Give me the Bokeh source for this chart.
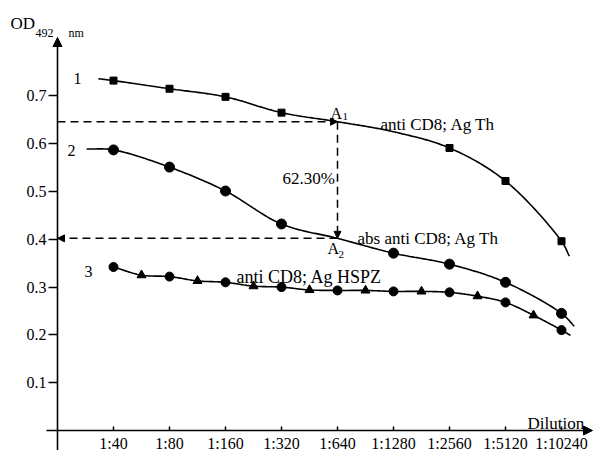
import numpy as np
from bokeh.plotting import figure
from bokeh.models import FixedTicker, Label, Arrow, NormalHead
from bokeh.embed import file_html
from bokeh.resources import INLINE

# ---------------- data ----------------
dilutions = ["1:40", "1:80", "1:160", "1:320", "1:640", "1:1280", "1:2560", "1:5120", "1:10240"]
dil_pos = [1, 2, 3, 4, 5, 6, 7, 8, 9]
y_ticks = [0.1, 0.2, 0.3, 0.4, 0.5, 0.6, 0.7]
y_tick_labels = ["0.1", "0.2", "0.3", "0.4", "0.5", "0.6", "0.7"]

# curve 1: anti CD8; Ag Th (squares)
c1_vals = [0.732, 0.715, 0.698, 0.665, 0.646, 0.625, 0.591, 0.522, 0.396]
c1_marked = [1, 1, 1, 1, 0, 0, 1, 1, 1]
c1_start = (0.73, 0.736)
c1_end = (9.14, 0.365)

# curve 2: abs anti CD8; Ag Th (circles)
c2_vals = [0.587, 0.551, 0.501, 0.432, 0.402, 0.371, 0.348, 0.310, 0.245]
c2_marked = [1, 1, 1, 1, 0, 1, 1, 1, 1]
c2_start = (0.52, 0.589)
c2_end = (9.23, 0.218)

# curve 3: anti CD8; Ag HSPZ (circles at dilutions, triangles between)
c3_circ = [0.342, 0.322, 0.310, 0.300, 0.293, 0.291, 0.289, 0.268, 0.210]
c3_tri_pos = [1.5, 2.5, 3.5, 4.5, 5.5, 6.5, 7.5, 8.5]
c3_tri = [0.325, 0.313, 0.302, 0.294, 0.293, 0.291, 0.281, 0.241]
c3_end = (9.16, 0.199)

A1 = c1_vals[4]
A2 = c2_vals[4]
pct_label = "62.30%"


def smooth(xs, ys, n=24, sx=56.0, sy=478.0):
    """centripetal Catmull-Rom curve through the given points (drawing only)"""
    P = np.column_stack([np.asarray(xs, float) * sx, np.asarray(ys, float) * sy])
    P = np.vstack([2 * P[0] - P[1], P, 2 * P[-1] - P[-2]])
    out = []
    for i in range(1, len(P) - 2):
        p0, p1, p2, p3 = P[i - 1], P[i], P[i + 1], P[i + 2]
        t0 = 0.0
        t1 = t0 + np.linalg.norm(p1 - p0) ** 0.5
        t2 = t1 + np.linalg.norm(p2 - p1) ** 0.5
        t3 = t2 + np.linalg.norm(p3 - p2) ** 0.5
        t = np.linspace(t1, t2, n, endpoint=False)[:, None]
        a1 = (t1 - t) / (t1 - t0) * p0 + (t - t0) / (t1 - t0) * p1
        a2 = (t2 - t) / (t2 - t1) * p1 + (t - t1) / (t2 - t1) * p2
        a3 = (t3 - t) / (t3 - t2) * p2 + (t - t2) / (t3 - t2) * p3
        b1 = (t2 - t) / (t2 - t0) * a1 + (t - t0) / (t2 - t0) * a2
        b2 = (t3 - t) / (t3 - t1) * a2 + (t - t1) / (t3 - t1) * a3
        c = (t2 - t) / (t2 - t1) * b1 + (t - t1) / (t2 - t1) * b2
        out.append(c)
    out.append(P[-2][None, :])
    S = np.vstack(out)
    return S[:, 0] / sx, S[:, 1] / sy


FONT = "Liberation Serif"
W, H = 594, 450
# page px: x = 57 + 56*i ; y = 430 - 478*v
x0 = (0 - 57) / 56
x1 = (W - 57) / 56
y1 = 430 / 478
y0 = (430 - H) / 478

p = figure(width=W, height=H, x_range=(x0, x1), y_range=(y0, y1),
           output_backend="svg", toolbar_location=None,
           min_border_left=0, min_border_right=0, min_border_top=0, min_border_bottom=0)
p.outline_line_color = None
p.grid.visible = False
p.background_fill_color = "white"

# axes placed at the data origin
p.xaxis.fixed_location = 0
p.yaxis.fixed_location = 0
for ax in (p.xaxis, p.yaxis):
    ax.axis_line_color = None
    ax.minor_tick_line_color = None
    ax.major_tick_line_color = "black"
    ax.major_tick_line_width = 1.5
    ax.major_label_text_font = FONT
    ax.major_label_text_font_size = "16px"
    ax.major_label_text_color = "black"

p.xaxis.ticker = FixedTicker(ticks=dil_pos)
p.xaxis.major_label_overrides = {k: v for k, v in zip(dil_pos, dilutions)}
p.xaxis.major_tick_in = 4
p.xaxis.major_tick_out = 0
p.xaxis.major_label_standoff = 4

p.yaxis.ticker = FixedTicker(ticks=y_ticks)
p.yaxis.major_label_overrides = {k: v for k, v in zip(y_ticks, y_tick_labels)}
p.yaxis.major_tick_in = 0
p.yaxis.major_tick_out = 9
p.yaxis.major_label_standoff = 2


def px(xp):
    return (xp - 57) / 56


def py(yp):
    return (430 - yp) / 478


# axis lines with arrow heads
p.add_layout(Arrow(end=NormalHead(size=9, fill_color="black", line_color="black"),
                   x_start=0, y_start=y0, x_end=0, y_end=py(37),
                   line_width=1.6, line_color="black"))
p.add_layout(Arrow(end=NormalHead(size=9, fill_color="black", line_color="black"),
                   x_start=px(46), y_start=0, x_end=px(592), y_end=0,
                   line_width=1.6, line_color="black"))

# curves
lx, ly = smooth([c1_start[0]] + dil_pos + [c1_end[0]], [c1_start[1]] + c1_vals + [c1_end[1]])
p.line(lx, ly, line_color="black", line_width=1.6)
lx, ly = smooth([c2_start[0]] + dil_pos + [c2_end[0]], [c2_start[1]] + c2_vals + [c2_end[1]])
p.line(lx, ly, line_color="black", line_width=1.6)
c3x = []
c3y = []
for i in range(len(dil_pos)):
    c3x.append(dil_pos[i]); c3y.append(c3_circ[i])
    if i < len(c3_tri_pos):
        c3x.append(c3_tri_pos[i]); c3y.append(c3_tri[i])
lx, ly = smooth(c3x + [c3_end[0]], c3y + [c3_end[1]])
p.line(lx, ly, line_color="black", line_width=1.6)

# markers
m1x = [x for x, m in zip(dil_pos, c1_marked) if m]
m1y = [y for y, m in zip(c1_vals, c1_marked) if m]
p.scatter(m1x, m1y, marker="square", size=7, color="black")
m2x = [x for x, m in zip(dil_pos, c2_marked) if m]
m2y = [y for y, m in zip(c2_vals, c2_marked) if m]
p.scatter(m2x, m2y, marker="circle", size=10, color="black")
p.scatter(dil_pos, c3_circ, marker="circle", size=9, color="black")
p.scatter(c3_tri_pos, c3_tri, marker="triangle", size=9, color="black")

# dashed guide arrows
dash = "8 5"
p.add_layout(Arrow(end=NormalHead(size=7, fill_color="black", line_color="black"),
                   x_start=0, y_start=A1, x_end=5, y_end=A1,
                   line_dash=dash, line_width=1.5, line_color="black"))
p.add_layout(Arrow(end=NormalHead(size=7, fill_color="black", line_color="black"),
                   x_start=5, y_start=A1, x_end=5, y_end=A2,
                   line_dash=dash, line_width=1.5, line_color="black"))
p.add_layout(Arrow(end=NormalHead(size=7, fill_color="black", line_color="black"),
                   x_start=5, y_start=A2, x_end=0, y_end=A2,
                   line_dash=dash, line_width=1.5, line_color="black"))


def lab(x, y, text, size=16, align="left"):
    # Bokeh places the alphabetic baseline ~5px lower than requested: compensate
    p.add_layout(Label(x=px(x), y=py(y - 5), text=text, text_font=FONT,
                       text_font_size=f"{size}px", text_align=align,
                       text_baseline="alphabetic", text_color="black"))


lab(10, 28, "OD", 17)
lab(35, 37, "492", 12)
lab(68, 37, "nm", 12)
lab(527, 428, "Dilution", 17)
lab(73, 83, "1")
lab(67, 155, "2")
lab(84, 276, "3")
lab(330, 118, "A")
lab(342, 121, "1", 11)
lab(380, 129, "anti CD8; Ag Th", 17)
lab(282, 183, pct_label, 17)
lab(357, 243, "abs anti CD8; Ag Th", 17)
lab(327, 253, "A")
lab(338, 259, "2", 11)
lab(236, 281, "anti CD8; Ag HSPZ", 18)

open("out.html", "w").write(file_html(p, INLINE))
